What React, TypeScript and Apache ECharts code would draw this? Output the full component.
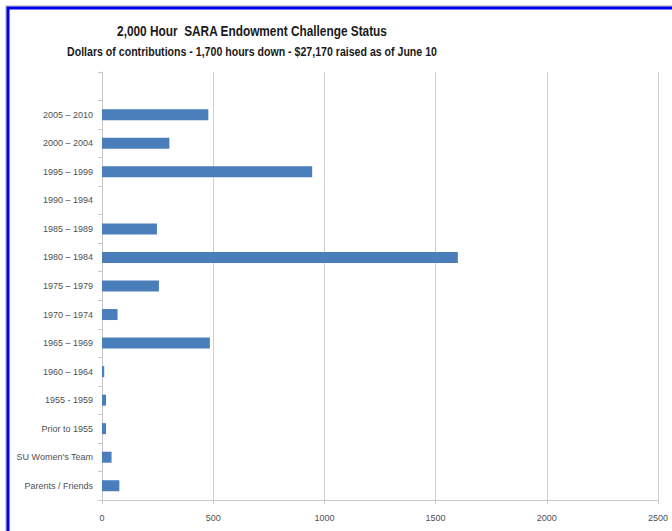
import React, { useEffect, useRef } from "react";
import * as echarts from "echarts";

const titleText = "2,000 Hour  SARA Endowment Challenge Status";
const subtitleText = "Dollars of contributions - 1,700 hours down - $27,170 raised as of June 10";

// top to bottom (first category is an empty slot at the top of the plot)
const categories = [
  "",
  "2005 – 2010",
  "2000 – 2004",
  "1995 – 1999",
  "1990 – 1994",
  "1985 – 1989",
  "1980 – 1984",
  "1975 – 1979",
  "1970 – 1974",
  "1965 – 1969",
  "1960 – 1964",
  "1955 - 1959",
  "Prior to 1955",
  "SU Women's Team",
  "Parents / Friends",
];
const dollars = [null, 478, 303, 945, 0, 247, 1600, 256, 70, 485, 10, 18, 18, 43, 78];
const xTicks = { min: 0, max: 2500, interval: 500 };

const FONT = "'Liberation Sans', Arial, sans-serif";

export default function App() {
  const ref = useRef<HTMLDivElement>(null);
  useEffect(() => {
    if (!ref.current) return;
    const chart = echarts.init(ref.current, undefined, { renderer: "svg" });
    chart.setOption({
      animation: false,
      backgroundColor: "#ffffff",
      graphic: [
        { type: "rect", shape: { x: 6, y: 6, width: 700, height: 560 }, style: { fill: "none", stroke: "#a0a0a0", lineWidth: 1 }, silent: true },
        { type: "rect", shape: { x: 8, y: 8, width: 700, height: 560 }, style: { fill: "none", stroke: "#0000ee", lineWidth: 3 }, silent: true },
        {
          type: "text",
          x: 252,
          y: 31,
          scaleX: 0.79,
          style: { text: titleText, font: `bold 15px ${FONT}`, fill: "#1a1a1a", align: "center", verticalAlign: "middle" },
        },
        {
          type: "text",
          x: 252,
          y: 52,
          scaleX: 0.815,
          style: { text: subtitleText, font: `bold 13px ${FONT}`, fill: "#1a1a1a", align: "center", verticalAlign: "middle" },
        },
      ],
      grid: { left: 102, right: 14, top: 72, bottom: 31, containLabel: false },
      xAxis: {
        type: "value",
        min: xTicks.min,
        max: xTicks.max,
        interval: xTicks.interval,
        axisLine: { show: true, lineStyle: { color: "#c8c8c8" } },
        axisTick: { show: true, length: 4, lineStyle: { color: "#c8c8c8" } },
        axisLabel: { color: "#505050", fontFamily: FONT, fontSize: 9, margin: 13, formatter: (v: number) => String(v) },
        splitLine: { show: true, lineStyle: { color: "#d0d0d0" } },
      },
      yAxis: {
        type: "category",
        inverse: true,
        data: categories,
        axisLine: { show: true, lineStyle: { color: "#c8c8c8" } },
        axisTick: { show: true, length: 4, lineStyle: { color: "#c8c8c8" } },
        axisLabel: { color: "#505050", fontFamily: FONT, fontSize: 9, margin: 9 },
        splitLine: { show: false },
      },
      series: [
        {
          type: "bar",
          data: dollars,
          barWidth: 11,
          itemStyle: { color: "#4a7ebb" },
        },
      ],
    });
    return () => chart.dispose();
  }, []);
  return <div ref={ref} style={{ width: 672, height: 531, position: "absolute", left: 0, top: 0 }} />;
}
